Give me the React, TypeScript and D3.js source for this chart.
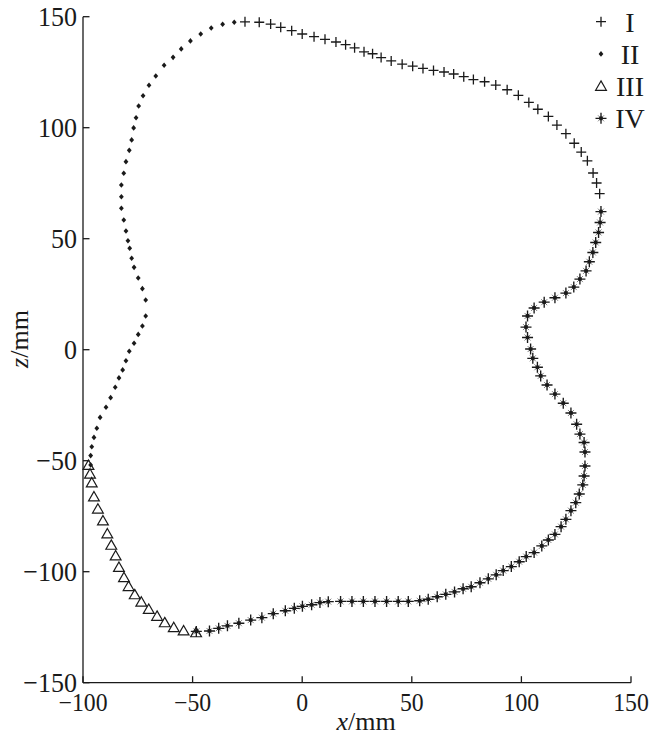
import React from "react";
import * as d3 from "d3";

const xTicks = [-100, -50, 0, 50, 100, 150];
const zTicks = [-150, -100, -50, 0, 50, 100, 150];
const legendLabels = ["I", "II", "III", "IV"];

// Series I (+)
const seriesI: [number, number][] = [
  [-26.1, 147.7], [-19.6, 147.5], [-14.4, 146.7], [-9.8, 145.2], [-4.8, 143.7],
  [0.0, 142.2], [5.4, 141.0], [10.4, 139.8], [15.4, 138.6], [19.8, 137.4],
  [23.9, 136.0], [28.2, 134.2], [32.1, 133.3], [36.0, 131.6], [40.6, 130.1],
  [45.6, 128.6], [50.4, 127.7], [55.1, 126.7], [59.9, 125.8], [64.7, 125.1],
  [69.1, 124.2], [73.7, 123.0], [78.1, 121.7], [83.2, 120.7], [88.3, 119.2],
  [93.5, 117.1], [98.6, 114.6], [103.4, 111.4], [107.5, 108.3], [112.3, 105.1],
  [116.2, 101.2], [120.3, 97.3], [124.1, 93.0], [127.3, 89.0], [130.1, 85.1],
  [132.7, 79.6], [134.3, 75.1], [135.7, 70.3],
];

// Series II (filled diamond dot)
const seriesII: [number, number][] = [
  [-31.0, 147.5], [-36.3, 146.6], [-41.5, 144.9], [-46.3, 142.2], [-51.0, 139.1],
  [-55.2, 135.5], [-58.9, 131.7], [-63.0, 128.1], [-66.8, 123.3], [-69.9, 119.1],
  [-72.6, 114.4], [-74.6, 109.8], [-75.8, 104.5], [-76.9, 99.9], [-77.8, 94.5],
  [-78.9, 89.8], [-80.4, 84.7], [-81.4, 79.5], [-82.5, 74.2], [-82.5, 68.9],
  [-82.5, 63.7], [-81.4, 58.4], [-80.4, 53.5], [-79.5, 49.1], [-78.7, 45.7],
  [-77.8, 41.2], [-76.7, 37.1], [-74.8, 32.3], [-72.9, 27.5], [-71.4, 22.4],
  [-71.4, 15.2], [-72.9, 10.7], [-74.8, 6.9], [-76.7, 2.9], [-78.9, -0.7],
  [-80.4, -5.0], [-81.9, -9.1], [-83.6, -12.7], [-85.3, -16.9], [-87.4, -21.6],
  [-89.5, -25.9], [-92.2, -30.5], [-93.7, -35.4], [-95.0, -39.5], [-96.0, -43.7],
  [-96.5, -47.7], [-96.5, -51.9],
];

// Series III (open triangle)
const seriesIII: [number, number][] = [
  [-97.5, -52.0], [-96.8, -56.0], [-96.0, -59.9], [-95.0, -66.2], [-93.2, -71.7],
  [-90.9, -77.0], [-88.9, -82.9], [-87.1, -88.0], [-85.1, -92.8], [-83.6, -98.0],
  [-81.3, -102.6], [-79.2, -106.6], [-76.4, -110.3], [-73.4, -113.6], [-70.0, -116.9],
  [-66.2, -120.0], [-62.7, -122.9], [-58.6, -125.1], [-54.1, -126.6], [-48.4, -127.4],
];

// Series IV (star)
const seriesIV: [number, number][] = [
  [-48.3, -126.9], [-42.3, -126.7], [-38.1, -125.5], [-34.1, -124.4], [-28.9, -123.2],
  [-23.5, -121.8], [-18.4, -120.7], [-13.2, -118.9], [-7.7, -117.6], [-3.6, -116.5],
  [0.1, -115.6], [4.3, -114.9], [8.1, -113.9], [11.9, -113.5], [17.5, -113.4],
  [22.7, -113.4], [27.9, -113.4], [33.2, -113.4], [38.5, -113.4], [43.8, -113.4],
  [48.4, -113.4], [53.6, -113.1], [57.5, -112.4], [61.6, -111.3], [65.5, -110.2],
  [69.5, -109.1], [73.4, -107.7], [77.1, -106.8], [81.1, -105.0], [84.9, -103.2],
  [88.5, -101.4], [91.7, -99.5], [95.4, -97.7], [99.0, -95.5], [102.2, -93.2],
  [105.8, -91.4], [109.3, -88.4], [112.3, -85.7], [115.3, -83.2], [118.1, -79.7],
  [120.3, -76.4], [122.6, -72.5], [124.8, -68.9], [126.4, -65.0], [128.0, -60.9],
  [128.6, -56.9], [129.0, -52.4], [129.0, -46.1], [128.6, -41.8], [126.7, -38.0],
  [125.2, -33.6], [122.6, -28.5], [119.1, -24.1], [115.3, -20.0], [111.7, -15.9],
  [108.8, -11.8], [107.3, -7.9], [105.2, -3.9], [104.2, 0.3], [102.8, 5.5],
  [102.1, 10.2], [102.8, 15.2], [105.8, 18.8], [110.4, 21.4], [115.3, 23.4],
  [120.3, 25.5], [123.9, 28.2], [126.7, 31.8], [129.5, 35.5], [131.0, 39.6],
  [132.6, 43.8], [133.9, 48.3], [135.2, 52.8], [135.9, 57.3], [136.3, 62.2],
];

const INK = "#1a1a1a";
const FONT = "'Liberation Serif', 'Times New Roman', Times, serif";

const W = 658;
const H = 745;
const left = 83;
const right = 631;
const top = 16.7;
const bottom = 682.7;

const x = d3.scaleLinear().domain([-100, 150]).range([left, right]);
const z = d3.scaleLinear().domain([-150, 150]).range([bottom, top]);

type MarkerKind = "plus" | "dot" | "tri" | "star";

function Marker({ kind, cx, cy }: { kind: MarkerKind; cx: number; cy: number }) {
  const t = `translate(${cx},${cy})`;
  if (kind === "plus") {
    return <path transform={t} d="M-5,0H5M0,-5V5" stroke={INK} strokeWidth={1.3} fill="none" />;
  }
  if (kind === "dot") {
    return <path transform={t} d="M0,-2.8L2.4,0L0,2.8L-2.4,0Z" fill={INK} />;
  }
  if (kind === "tri") {
    return <path transform={t} d="M0,-5.2L5.4,4.2L-5.4,4.2Z" stroke={INK} strokeWidth={1.2} fill="none" />;
  }
  return (
    <g transform={t}>
      <path d="M-3,-3L3,3M-3,3L3,-3" stroke={INK} strokeWidth={1} fill="none" opacity={0.55} />
      <path d="M-5.5,0H5.5M0,-5.5V5.5" stroke={INK} strokeWidth={1.35} fill="none" />
      <circle r={2.1} fill={INK} />
    </g>
  );
}

const seriesList: { data: [number, number][]; kind: MarkerKind }[] = [
  { data: seriesIII, kind: "tri" },
  { data: seriesII, kind: "dot" },
  { data: seriesIV, kind: "star" },
  { data: seriesI, kind: "plus" },
];

const legendKinds: MarkerKind[] = ["plus", "dot", "tri", "star"];

export default function App() {
  return (
    <svg
      width={W}
      height={H}
      style={{ position: "absolute", left: 0, top: 0, background: "#fff" }}
      fontFamily={FONT}
    >
      <rect width={W} height={H} fill="#fff" />
      {/* axes */}
      <line x1={left} x2={left} y1={top} y2={bottom} stroke={INK} strokeWidth={1.3} />
      <line x1={left} x2={right} y1={bottom} y2={bottom} stroke={INK} strokeWidth={1.3} />
      {xTicks.map((t) => (
        <g key={"xt" + t}>
          <line x1={x(t)} x2={x(t)} y1={bottom} y2={bottom - 6.5} stroke={INK} strokeWidth={1.3} />
          <text
            transform={`translate(${x(t)},711) scale(0.95,1)`}
            textAnchor="middle"
            fontSize={25}
            fill={INK}
          >
            {t < 0 ? "\u2212" + Math.abs(t) : String(t)}
          </text>
        </g>
      ))}
      {zTicks.map((t) => (
        <g key={"zt" + t}>
          <line x1={left} x2={left + 6.5} y1={z(t)} y2={z(t)} stroke={INK} strokeWidth={1.3} />
          <text
            transform={`translate(77,${z(t) + 9.5}) scale(0.93,1)`}
            textAnchor="end"
            fontSize={28}
            fill={INK}
          >
            {t < 0 ? "\u2212" + Math.abs(t) : String(t)}
          </text>
        </g>
      ))}
      {/* axis titles */}
      <text x={366} y={730} textAnchor="middle" fontSize={26} fill={INK}>
        <tspan fontStyle="italic">x</tspan>/mm
      </text>
      <text
        transform={`translate(28,339) rotate(-90)`}
        textAnchor="middle"
        fontSize={26}
        fill={INK}
      >
        <tspan fontStyle="italic">z</tspan>/mm
      </text>
      {/* data */}
      {seriesList.map((s, si) => (
        <g key={"s" + si}>
          {s.data.map((d, i) => (
            <Marker key={i} kind={s.kind} cx={x(d[0])} cy={z(d[1])} />
          ))}
        </g>
      ))}
      {/* legend */}
      {legendLabels.map((lab, i) => (
        <g key={"lg" + i}>
          <Marker kind={legendKinds[i]} cx={601} cy={21.7 + i * 32.2} />
          <text x={630} y={31.5 + i * 32.2} textAnchor="middle" fontSize={28} fill={INK}>
            {lab}
          </text>
        </g>
      ))}
    </svg>
  );
}
